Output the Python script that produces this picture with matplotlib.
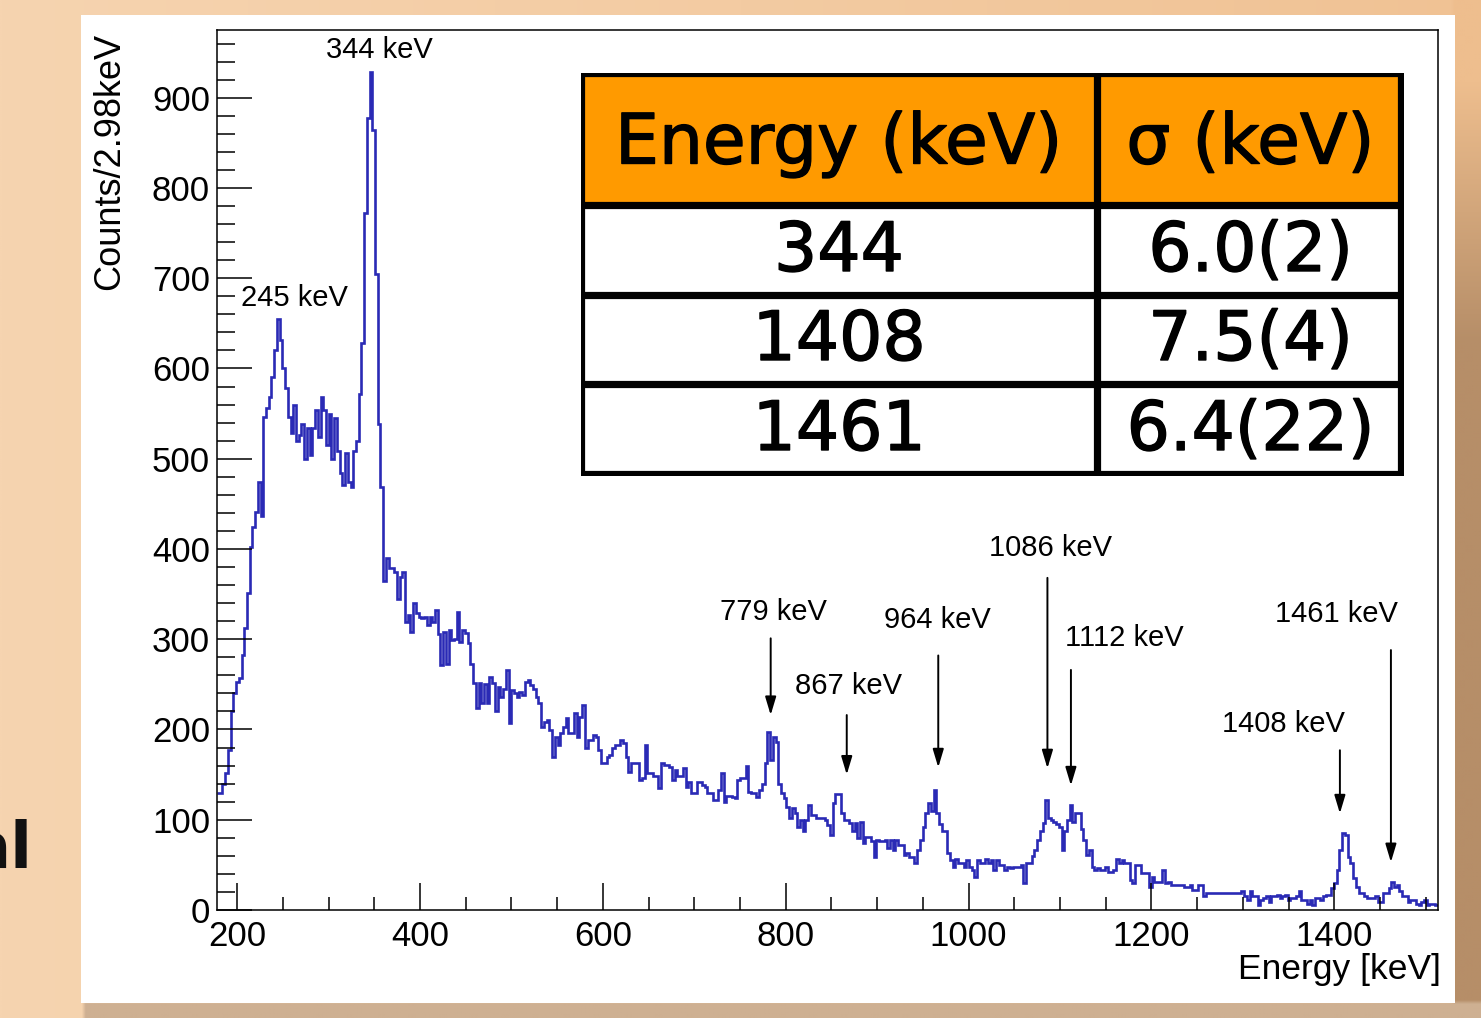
import numpy as np
import matplotlib
matplotlib.use("Agg")
import matplotlib.pyplot as plt
from matplotlib.patches import Rectangle
from matplotlib.ticker import MultipleLocator
import matplotlib.patheffects as pe

# ---------------- data ----------------
BIN_START = 178.0      # keV, left edge of first bin
BIN_WIDTH = 2.98       # keV per bin

counts_178_360 = [130, 130, 140, 152, 177, 221, 240, 253, 257, 282, 312, 351, 402, 424, 441, 474, 437,
                  546, 556, 568, 590, 620, 655,
                  631, 600, 578, 546, 528, 559, 520, 526, 539, 500,
                  534, 504, 534, 554, 524, 568, 554, 515, 550, 500,
                  545, 509, 484, 471, 506, 474, 469, 509, 520, 572,
                  628, 772, 878, 928, 864, 705, 539, 469]

counts_360_820 = [365, 390, 379, 379, 374, 345, 369, 374, 319, 327, 308,
                  340, 329, 325, 323, 325, 316, 325, 319, 332,
                  306, 271, 308, 273, 310, 299, 300, 330, 297, 310,
                  307, 296, 273, 251, 224, 251, 229, 250, 229, 258,
                  252, 221, 247, 236, 245, 266, 207, 244, 240, 236,
                  241, 238, 253, 255, 249, 245, 236, 229, 203, 208,
                  210, 199, 169, 192, 183, 196, 203, 213, 196,
                  196, 218, 192, 214, 227, 179, 188, 188, 194, 192,
                  177, 163, 163, 169, 172, 179, 183, 183, 188, 185,
                  169, 153, 163, 163, 163, 144, 146, 183, 152, 152,
                  148, 148, 135, 163, 161, 161, 158, 144, 155, 148,
                  148, 157, 136, 142, 130, 130, 142, 142, 138, 136,
                  130, 130, 122, 122, 133, 152, 120, 126, 126, 125,
                  124, 144, 146, 146, 160, 131, 130, 130, 125, 133,
                  140, 163, 197, 166, 192, 186, 140, 130, 124, 114,
                  102, 113, 108, 92, 100]

counts_820_1180 = [87, 100, 116, 105, 105, 102, 102, 102, 100, 94, 83,
                   118, 129, 129, 107, 100, 100, 96, 87, 96, 80, 97,
                   74, 81, 81, 76, 59, 78, 76, 76, 78, 69, 78,
                   66, 78, 72, 72, 61, 63, 59, 59, 52, 66, 78, 92, 107, 118, 110,
                   133,
                   107, 95, 87, 87, 63, 55, 48, 57, 52, 52, 48, 55, 48, 44, 37, 55, 52, 52, 57, 52,
                   55, 44, 55, 50, 50, 44, 48, 46, 48, 48, 48, 50, 30, 52, 52, 60, 66, 78, 87, 96,
                   122,
                   102, 100, 98, 95, 92, 66, 87, 100,
                   116,
                   98, 107, 107, 90, 78, 61, 66, 48, 44, 46, 44, 44, 48, 42, 42, 44, 57, 52, 55, 52, 52, 33]

counts_1180_1513 = [30, 50, 50, 41, 41, 41, 26, 37, 31, 31, 31, 44,
                    30, 31, 28, 28, 28, 28, 28, 26, 26, 28, 22, 22,
                    28, 28, 15, 19, 19, 19, 19, 19, 19, 19, 19, 19,
                    19, 19, 19, 19, 21, 15, 11, 21, 15, 15, 6, 11,
                    13, 15, 9, 15, 15, 17, 13, 15, 17, 11, 13, 13,
                    15, 21, 11, 11, 7, 11, 6, 13, 13, 11, 15, 17, 17, 24, 30, 44, 66,
                    85,
                    83, 59, 52, 35, 26, 19, 19, 15, 13, 13, 13, 15, 9, 9, 19, 19, 24,
                    31,
                    26, 28, 21, 15, 15, 9, 11, 11, 7, 6, 9, 11, 6, 7, 7, 6]

# peak labels without arrows (text, x keV, y counts)
plain_labels = ["344 keV", "245 keV"]
plain_label_x = [356, 263]
plain_label_y = [953, 678]

# peak labels with arrows
arrow_labels = ["779 keV", "867 keV", "964 keV", "1086 keV", "1112 keV", "1408 keV", "1461 keV"]
arrow_energy = [783.6, 866.8, 966.9, 1086.3, 1112, 1406.2, 1462]
arrow_top = [301, 216, 282, 368, 266, 177, 288]
arrow_bottom = [216, 150, 158, 157, 138, 107, 53]
arrow_label_x = [787, 869, 965.5, 1090, 1170, 1344, 1402]
arrow_label_y = [330, 248, 321, 401, 301, 206, 328]

table_header = ["Energy (keV)", "σ (keV)"]
table_energy = ["344", "1408", "1461"]
table_sigma = ["6.0(2)", "7.5(4)", "6.4(22)"]

# ---------------- figure ----------------
W, H = 1481, 1018
fig = plt.figure(figsize=(W / 100, H / 100), dpi=100)

# background gradient (decoration)
bg = fig.add_axes([0, 0, 1, 1], zorder=-10)
yy, xx = np.mgrid[0:H:4, 0:W:4]
fx = xx / W
img = np.zeros(xx.shape + (3,))
left_c = np.array([246, 212, 176]) / 255
right_c = np.array([240, 194, 148]) / 255
img[:] = left_c + (right_c - left_c) * fx[..., None]
rs = xx > 1455
t = np.clip((yy - 80) / 260.0, 0, 1)
top_c = np.array([238, 190, 142]) / 255
bot_c = np.array([182, 142, 104]) / 255
strip = top_c + (bot_c - top_c) * t[..., None]
img[rs] = strip[rs]
bs = (yy > 1003) & (xx > 81)
img[bs] = (np.array([206, 176, 146]) / 255)
bg.imshow(img, extent=[0, W, H, 0], aspect="auto", interpolation="bilinear")
bg.set_xlim(0, W)
bg.set_ylim(H, 0)
bg.axis("off")
bg.add_patch(Rectangle((81, 15), 1455 - 81, 1003 - 15, facecolor="white", edgecolor="none"))
bg.text(32, 850, "al", fontsize=46, fontweight="bold", ha="right", va="center",
        family=["DejaVu Sans"], color="#111111")

# main axes
L, R, T, B = 217, 1438, 30, 910
ax = fig.add_axes([L / W, 1 - B / H, (R - L) / W, (B - T) / H])
ax.set_facecolor("white")

counts = np.array(counts_178_360 + counts_360_820 + counts_820_1180 + counts_1180_1513, dtype=float)
edges = BIN_START + BIN_WIDTH * np.arange(len(counts) + 1)
ax.stairs(counts, edges, color="#2a2ab5", lw=1.9, baseline=None)

ax.set_xlim(178, 1513.5)
ax.set_ylim(0, 975)

font = ["Liberation Sans", "DejaVu Sans"]
for sp in ax.spines.values():
    sp.set_linewidth(1.1)
ax.xaxis.set_major_locator(MultipleLocator(200))
ax.xaxis.set_minor_locator(MultipleLocator(50))
ax.yaxis.set_major_locator(MultipleLocator(100))
ax.yaxis.set_minor_locator(MultipleLocator(20))
ax.tick_params(axis="x", which="major", direction="in", length=19.5, width=1.1, pad=7, labelsize=25)
ax.tick_params(axis="x", which="minor", direction="in", length=9.5, width=1.1)
ax.tick_params(axis="y", which="major", direction="in", length=25, width=1.1, pad=5, labelsize=25)
ax.tick_params(axis="y", which="minor", direction="in", length=13, width=1.1)
for lab in ax.get_xticklabels() + ax.get_yticklabels():
    lab.set_family(font)

ax.set_xlabel("Energy [keV]", fontsize=25.5, family=font, loc="right", va="center")
ax.xaxis.set_label_coords(1.0025, -(970 - B) / (B - T))
ax.set_ylabel("Counts/2.98keV", fontsize=26, family=font, loc="top", va="center")
ax.yaxis.set_label_coords((110 - L) / (R - L), (B - 33) / (B - T))

for txt, x, y in zip(plain_labels, plain_label_x, plain_label_y):
    ax.text(x, y, txt, fontsize=21, family=font, ha="center", va="center")

for txt, e, yt, yb, lx, ly in zip(arrow_labels, arrow_energy, arrow_top, arrow_bottom,
                                  arrow_label_x, arrow_label_y):
    ax.annotate("", xy=(e, yb), xytext=(e, yt),
                arrowprops=dict(arrowstyle="-|>,head_length=1.1,head_width=0.33",
                                color="black", lw=1.4, shrinkA=0, shrinkB=0))
    ax.text(lx, ly, txt, fontsize=21, family=font, ha="center", va="center")

# table overlay
tx0, tx1, ty0, ty1 = 581, 1404, 73, 476
tab = fig.add_axes([tx0 / W, 1 - ty1 / H, (tx1 - tx0) / W, (ty1 - ty0) / H])
tab.set_xlim(tx0, tx1)
tab.set_ylim(ty1, ty0)
tab.axis("off")
col_div = 1097
row_lines = [73, 205, 295, 384, 474]
tab.add_patch(Rectangle((tx0, ty0), tx1 - tx0, row_lines[1] - ty0, facecolor="#ff9a00", edgecolor="none"))
tab.add_patch(Rectangle((tx0, row_lines[1]), tx1 - tx0, row_lines[-1] - row_lines[1],
                        facecolor="white", edgecolor="none"))
lw_tab = 5.2
for yl in row_lines:
    tab.plot([tx0, tx1], [yl, yl], color="black", lw=lw_tab, solid_capstyle="projecting")
tab.plot([tx0, tx0], [ty0, row_lines[-1]], color="black", lw=lw_tab, solid_capstyle="projecting")
tab.plot([tx1 - 3, tx1 - 3], [ty0, row_lines[-1]], color="black", lw=lw_tab, solid_capstyle="projecting")
tab.plot([col_div, col_div], [ty0, row_lines[-1]], color="black", lw=lw_tab, solid_capstyle="projecting")

c1 = (tx0 + col_div) / 2
c2 = (col_div + tx1) / 2
tfont = ["DejaVu Sans"]
thick = [pe.withStroke(linewidth=1.0, foreground="black")]
tab.text(c1, 144, table_header[0], fontsize=50, family=tfont, ha="center", va="center", path_effects=thick)
tab.text(c2, 144, table_header[1], fontsize=50, family=tfont, ha="center", va="center", path_effects=thick)
row_centers = [252, 341, 431]
for yc, e, s in zip(row_centers, table_energy, table_sigma):
    tab.text(c1, yc, e, fontsize=49, family=tfont, ha="center", va="center", path_effects=thick)
    tab.text(c2, yc, s, fontsize=49, family=tfont, ha="center", va="center", path_effects=thick)

fig.savefig("out.png", dpi=100)
